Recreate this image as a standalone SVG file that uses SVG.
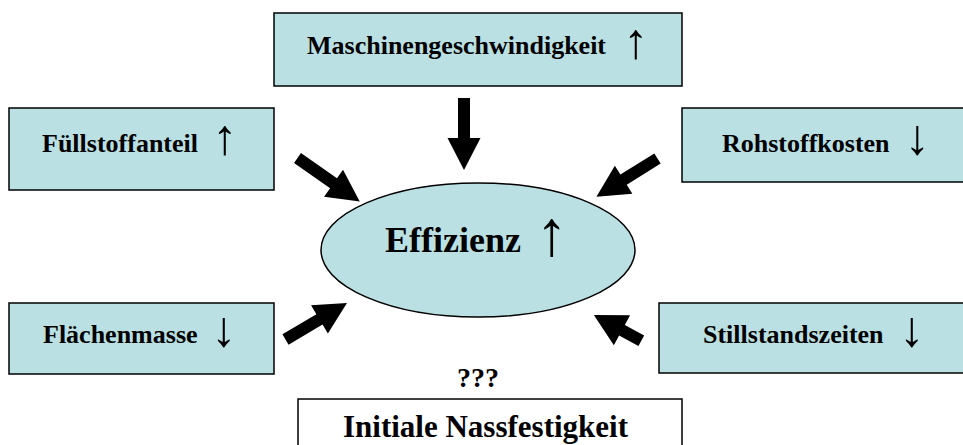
<svg xmlns="http://www.w3.org/2000/svg" width="963" height="445" viewBox="0 0 963 445">
<style>
.box{fill:#BBE0E3;stroke:#000;stroke-width:1.5}
.wbox{fill:#fff;stroke:#000;stroke-width:1.5}
.lbl{font-family:"Liberation Serif","Times New Roman",serif;font-weight:bold;font-size:26px;fill:#000}
.sym{font-family:"Liberation Serif","Times New Roman",serif;font-weight:bold;font-size:50px;fill:#000;text-anchor:middle}
.arr{fill:#000}
</style>
<rect width="963" height="445" fill="#fff"/>
<g id="node-maschinen">
<rect class="box" x="274" y="13" width="408" height="73"/>
<text class="lbl" x="307" y="54">Maschinengeschwindigkeit</text>
<text class="sym" x="636" y="58">↑</text>
</g>
<g id="node-fuellstoff">
<rect class="box" x="9" y="108" width="265" height="82"/>
<text class="lbl" x="42" y="152">Füllstoffanteil</text>
<text class="sym" x="225" y="154">↑</text>
</g>
<g id="node-rohstoff">
<rect class="box" x="682" y="108" width="290" height="74"/>
<text class="lbl" x="722" y="152">Rohstoffkosten</text>
<text class="sym" x="917.5" y="154">↓</text>
</g>
<g id="node-flaechen">
<rect class="box" x="9" y="303" width="265" height="71"/>
<text class="lbl" x="43" y="343">Flächenmasse</text>
<text class="sym" x="224" y="346">↓</text>
</g>
<g id="node-stillstand">
<rect class="box" x="659" y="303" width="312" height="70"/>
<text class="lbl" x="703" y="343">Stillstandszeiten</text>
<text class="sym" x="912" y="346">↓</text>
</g>
<g id="node-effizienz">
<ellipse class="box" cx="478" cy="250" rx="157" ry="67" stroke-width="2"/>
<text class="lbl" x="385" y="252" style="font-size:36px">Effizienz</text>
<text class="sym" x="551.5" y="255" style="font-size:64px">↑</text>
</g>
<g id="node-nass">
<text class="lbl" x="478" y="387" text-anchor="middle" style="font-size:28px">???</text>
<rect class="wbox" x="298" y="399" width="384" height="60"/>
<text class="lbl" x="343" y="437" style="font-size:31px">Initiale Nassfestigkeit</text>
</g>
<g id="connectors">
<path class="arr" transform="translate(464,98) rotate(90)" d="M0,-6 L40,-6 L40,-16.5 L72,0 L40,16.5 L40,6 L0,6 Z"/>
<path class="arr" transform="translate(297.5,158) rotate(35)" d="M0,-6 L44,-6 L44,-16.5 L76,0 L44,16.5 L44,6 L0,6 Z"/>
<path class="arr" transform="translate(657.5,158.5) rotate(148)" d="M0,-6 L40,-6 L40,-16.5 L72,0 L40,16.5 L40,6 L0,6 Z"/>
<path class="arr" transform="translate(285.5,339.5) rotate(-30.7)" d="M0,-6 L39.5,-6 L39.5,-16.5 L71.5,0 L39.5,16.5 L39.5,6 L0,6 Z"/>
<path class="arr" transform="translate(641.3,340.7) rotate(208.5)" d="M0,-6 L22,-6 L22,-17 L54,0 L22,17 L22,6 L0,6 Z"/>
</g>
</svg>
